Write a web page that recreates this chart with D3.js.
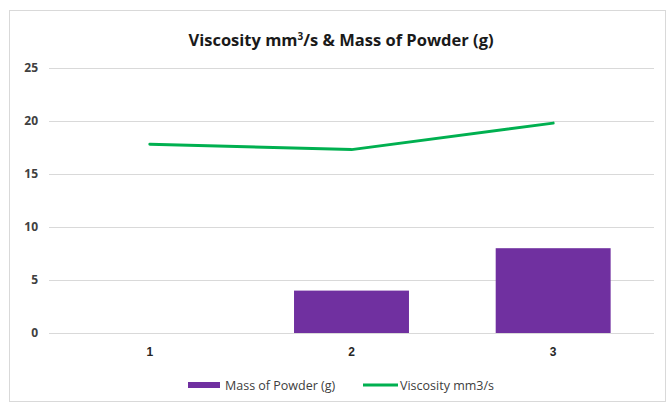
<!DOCTYPE html>
<html><head><meta charset="utf-8">
<script src="https://cdn.jsdelivr.net/npm/d3@7"></script>
<style>body{margin:0;background:#fff;}svg{display:block;font-family:"Open Sans","Noto Sans",sans-serif;}</style>
</head><body><svg id="c" width="667" height="403"></svg>
<script>
const categories = ["1","2","3"];
const massOfPowder = [0, 4, 8];
const viscosity = [17.8, 17.3, 19.8];
const yTicks = [0,5,10,15,20,25];

const svg = d3.select("#c");
const W=667,H=403;
svg.append("rect").attr("x",9.5).attr("y",10.5).attr("width",656).attr("height",391).attr("fill","#fff").attr("stroke","#d9d9d9");

const x = d3.scaleBand().domain(categories).range([49,654]).paddingInner(0.43).paddingOuter(0.215);
const y = d3.scaleLinear().domain([0,25]).range([333,68]);

// gridlines
svg.append("g").selectAll("line").data(yTicks).join("line")
  .attr("x1",49).attr("x2",654).attr("y1",d=>Math.round(y(d))+0.5).attr("y2",d=>Math.round(y(d))+0.5)
  .attr("stroke","#d9d9d9").attr("stroke-width",1);

// y axis labels
const ya = svg.append("g").attr("transform","translate(38,0)")
  .call(d3.axisLeft(y).tickValues(yTicks).tickSize(0).tickPadding(0));
ya.select(".domain").remove();
ya.selectAll("text").attr("font-size",12).attr("font-weight","bold").attr("fill","#404040").attr("font-family","'Open Sans',sans-serif");

// x axis labels
const xa = svg.append("g").attr("transform","translate(0,347)")
  .call(d3.axisBottom(x).tickSize(0).tickPadding(0));
xa.select(".domain").remove();
xa.selectAll("text").attr("font-size",12).attr("font-weight","bold").attr("fill","#262626").attr("dy","0.71em");

// bars
svg.append("g").selectAll("rect").data(massOfPowder).join("rect")
  .attr("x",(d,i)=>x(categories[i])).attr("width",x.bandwidth())
  .attr("y",d=>y(d)).attr("height",d=>y(0)-y(d)).attr("fill","#7030A0");

// line
const line = d3.line().x((d,i)=>x(categories[i])+x.bandwidth()/2).y(d=>y(d));
svg.append("path").datum(viscosity).attr("d",line).attr("fill","none")
  .attr("stroke","#00B050").attr("stroke-width",3).attr("stroke-linecap","round").attr("stroke-linejoin","round");

// title
const t = svg.append("text").attr("x",341).attr("y",46).attr("text-anchor","middle")
  .attr("font-size",16.5).attr("font-weight","bold").attr("fill","#1a1a1a");
t.append("tspan").text("Viscosity mm");
t.append("tspan").text("3").attr("font-size",10).attr("dy",-6);
t.append("tspan").text("/s & Mass of Powder (g)").attr("dy",6);

// legend
const lg = svg.append("g");
lg.append("rect").attr("x",188).attr("y",382).attr("width",32).attr("height",6).attr("fill","#7030A0");
lg.append("text").attr("x",225).attr("y",389.5).attr("font-size",12.5).attr("fill","#404040").text("Mass of Powder (g)");
lg.append("line").attr("x1",363).attr("x2",398).attr("y1",385).attr("y2",385).attr("stroke","#00B050").attr("stroke-width",3);
lg.append("text").attr("x",400).attr("y",389.5).attr("font-size",12.5).attr("fill","#404040").text("Viscosity mm3/s");
</script></body></html>
